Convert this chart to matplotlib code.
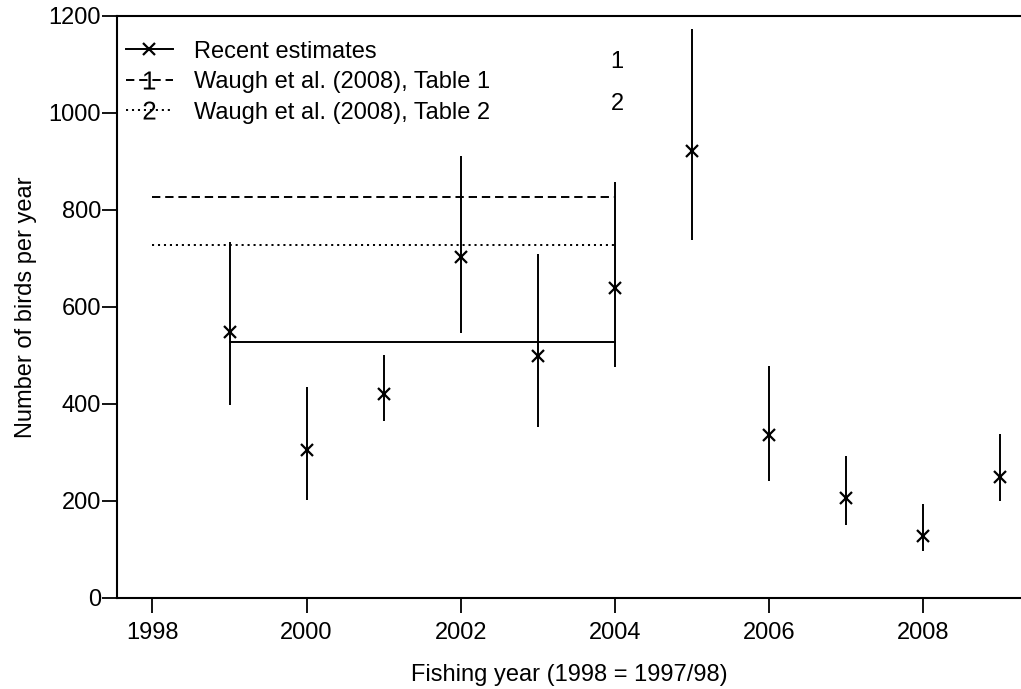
import matplotlib
matplotlib.use("Agg")
import matplotlib.pyplot as plt
from matplotlib.lines import Line2D

plt.rcParams['font.family'] = ['Liberation Sans', 'DejaVu Sans']
plt.rcParams['mathtext.fontset'] = 'custom'
plt.rcParams['mathtext.rm'] = 'Liberation Sans'
plt.rcParams['mathtext.it'] = 'Liberation Sans'
plt.rcParams['lines.scale_dashes'] = False

# Recent estimates with 95% intervals
years = [1999, 2000, 2001, 2002, 2003, 2004, 2005, 2006, 2007, 2008, 2009]
est = [548, 305, 421, 704, 498, 639, 922, 336, 206, 128, 250]
lower = [398, 202, 364, 546, 353, 477, 738, 241, 151, 97, 200]
upper = [733, 436, 501, 911, 709, 858, 1173, 478, 293, 194, 338]

# mean of recent estimates over 1999-2004
recent_mean = 527
recent_span = [1999, 2004]

# Waugh et al. (2008) estimates
waugh_span = [1998, 2004]
waugh_t1 = 827
waugh_t2 = 728

FS = 17

fig = plt.figure(figsize=(10.21, 6.89), dpi=100)
ax = fig.add_axes([0.1146, 0.1321, 0.8854, 0.8447])

lw = 1.4
ax.vlines(years, lower, upper, color='black', lw=lw)
ax.plot(years, est, ls='none', marker='x', ms=8.5, mew=1.6, color='black')
ax.plot(recent_span, [recent_mean, recent_mean], color='black', lw=lw)
ax.plot(waugh_span, [waugh_t1, waugh_t1], color='black', lw=lw, ls=(0, (6, 3.5)))
ax.plot(waugh_span, [waugh_t2, waugh_t2], color='black', lw=lw, ls=(0, (1.5, 2.8)))

ax.set_xlim(1997.54, 2009.27)
ax.set_ylim(0, 1200)
ax.set_xticks(range(1998, 2009, 2))
ax.set_yticks(range(0, 1201, 200))

ax.spines['right'].set_visible(False)
for s in ['left', 'bottom', 'top']:
    ax.spines[s].set_linewidth(1.5)
ax.tick_params(axis='both', direction='out', length=11, width=1.3, labelsize=FS, color='black')
ax.tick_params(axis='y', pad=0.5)
ax.tick_params(axis='x', pad=6)

ax.set_xlabel('Fishing year (1998 = 1997/98)', fontsize=FS, labelpad=15)
ax.set_ylabel('Number of birds per year', fontsize=FS, labelpad=8)

handles = [
    Line2D([], [], color='black', lw=lw, marker='x', ms=8.5, mew=1.6),
    Line2D([], [], color='black', lw=lw, ls=(0, (6, 3.5)), marker='$1$', ms=13, mew=0),
    Line2D([], [], color='black', lw=lw, ls=(0, (1.5, 2.8)), marker='$2$', ms=13, mew=0),
]
labels = ['Recent estimates', 'Waugh et al. (2008), Table 1', 'Waugh et al. (2008), Table 2']
ax.legend(handles, labels, loc='upper left', bbox_to_anchor=(-0.006, 0.982), frameon=False,
          fontsize=FS, handlelength=2.0, handletextpad=0.9, labelspacing=0.36, borderaxespad=0.2)

# stray plotting symbols
ax.text(2004.03, 1105, '1', fontsize=FS, ha='center', va='center')
ax.text(2004.03, 1019, '2', fontsize=FS, ha='center', va='center')

fig.savefig('out.png', dpi=100)
